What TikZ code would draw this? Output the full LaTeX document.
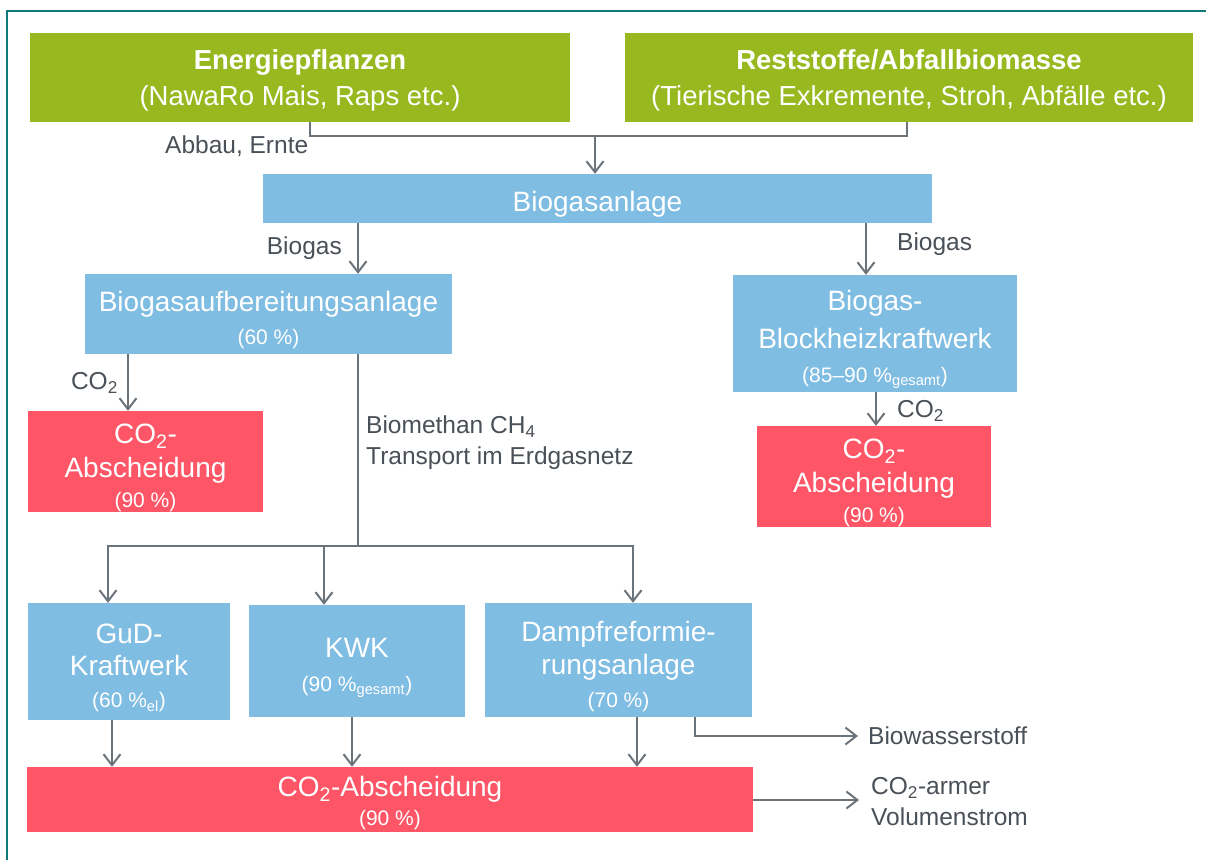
\documentclass[tikz,border=0pt]{standalone}
\usepackage{fontspec}
\setmainfont{Liberation Sans}
\usetikzlibrary{arrows.meta}

\definecolor{framec}{HTML}{0F7A7C}
\definecolor{greenc}{HTML}{97B91F}
\definecolor{bluec}{HTML}{80BDE2}
\definecolor{redc}{HTML}{FE5667}
\definecolor{linec}{HTML}{6B737B}
\definecolor{labelc}{HTML}{4A5057}

\newcommand{\bigtxt}{\fontsize{28}{33}\selectfont}
\newcommand{\smalltxt}{\fontsize{21}{33}\selectfont}
\newcommand{\pct}[1]{{\smalltxt #1}}
% tall invisible strut on the first line pushes the text block a little lower
\newcommand{\boxstrut}{\rule{0pt}{32.5pt}}
\newcommand{\greenstrut}{\rule{0pt}{26pt}}

\tikzset{
  box/.style={rectangle, inner sep=0pt, text=white, align=center, font=\bigtxt},
  greenbox/.style={box, fill=greenc, font=\fontsize{27.5}{36}\selectfont},
  bluebox/.style={box, fill=bluec},
  redbox/.style={box, fill=redc},
  lbl/.style={inner sep=0pt, text=labelc, font=\fontsize{24.5}{31}\selectfont, align=left},
  conn/.style={draw=linec, line width=2pt},
  arr/.style={conn, -{Straight Barb[length=11pt,width=17pt]}},
}

\begin{document}
\begin{tikzpicture}[x=1pt,y=-1pt]
\useasboundingbox (0,0) rectangle (1206,860);

% outer frame (top and left edges)
\draw[framec, line width=2.5pt] (7,860) -- (7,11) -- (1206,11);

% input boxes
\node[greenbox, minimum width=540pt, minimum height=89pt] (en) at (300,77.5)
  {\greenstrut\textbf{Energiepflanzen}\\(NawaRo Mais, Raps etc.)};
\node[greenbox, minimum width=568pt, minimum height=89pt] (rest) at (909,77.5)
  {\greenstrut\textbf{Reststoffe/Abfallbiomasse}\\(Tierische Exkremente, Stroh, Abfälle etc.)};

\node[bluebox, minimum width=669pt, minimum height=49pt] (bga) at (597.5,198.5) {\boxstrut Biogasanlage};

\node[bluebox, minimum width=367pt, minimum height=80pt] (aufb) at (268.5,314)
  {\boxstrut Biogasaufbereitungsanlage\\\pct{(60 \%)}};
\node[bluebox, minimum width=284pt, minimum height=117pt] (bhkw) at (875,333.5)
  {\boxstrut Biogas-\\[5pt]Blockheizkraftwerk\\[1pt]\pct{(85--90 \%\textsubscript{gesamt})}};

\node[redbox, minimum width=235pt, minimum height=101pt] (co2l) at (145.5,461.5)
  {\boxstrut CO\textsubscript{2}-\\[1pt]Abscheidung\\[-3pt]\pct{(90 \%)}};
\node[redbox, minimum width=234pt, minimum height=101pt] (co2r) at (874,476.5)
  {\boxstrut CO\textsubscript{2}-\\[1pt]Abscheidung\\[-3pt]\pct{(90 \%)}};

\node[bluebox, minimum width=202pt, minimum height=117pt] (gud) at (129,661.5)
  {\boxstrut GuD-\\[-1pt]Kraftwerk\\[-1pt]\pct{(60 \%\textsubscript{el})}};
\node[bluebox, minimum width=216pt, minimum height=112pt] (kwk) at (357,661)
  {\boxstrut KWK\\[1pt]\pct{(90 \%\textsubscript{gesamt})}};
\node[bluebox, minimum width=267pt, minimum height=114pt] (dampf) at (618.5,660)
  {\boxstrut Dampfreformie-\\rungsanlage\\\pct{(70 \%)}};

\node[redbox, minimum width=726pt, minimum height=65pt] (co2b) at (390,799.5)
  {\rule{0pt}{28pt}CO\textsubscript{2}-Abscheidung\\[-4pt]\pct{(90 \%)}};

% labels
\node[lbl, anchor=west] (ernte) at (165,146) {Abbau, Ernte};
\node[lbl, anchor=east] (bgl) at (342,248) {Biogas};
\node[lbl, anchor=west] (bgr) at (897,244) {Biogas};
\node[lbl, anchor=east] (col) at (118,383) {CO\textsubscript{2}};
\node[lbl, anchor=west] (cor) at (897,411) {CO\textsubscript{2}};
\node[lbl, anchor=west] (bm) at (366,443) {Biomethan CH\textsubscript{4}\\Transport im Erdgasnetz};
\node[lbl, anchor=west] (h2) at (868,736) {Biowasserstoff};
\node[lbl, anchor=west] (arm) at (871,802) {CO\textsubscript{2}-armer\\Volumenstrom};

% junctions
\coordinate (j1) at (595,136);
\coordinate (j2) at (358,546);

% connectors
\draw[conn] (en.south -| 310,0) |- (j1) -| (rest.south -| 907,0);
\draw[arr] (j1) -- (bga.north -| j1);
\draw[arr] (bga.south -| 358,0) -- (aufb.north -| 358,0);
\draw[arr] (bga.south -| 866,0) -- (bhkw.north -| 866,0);
\draw[arr] (aufb.south -| 128,0) -- (co2l.north -| 128,0);
\draw[arr] (bhkw.south -| 876,0) -- (co2r.north -| 876,0);
\draw[conn] (aufb.south -| j2) -- (j2);
\draw[arr] (j2) -| (gud.north -| 108,0);
\draw[arr] (j2) -| (kwk.north -| 324,0);
\draw[arr] (j2) -| (dampf.north -| 633,0);
\draw[arr] (gud.south -| 112,0) -- (co2b.north -| 112,0);
\draw[arr] (kwk.south -| 352,0) -- (co2b.north -| 352,0);
\draw[arr] (dampf.south -| 637,0) -- (co2b.north -| 637,0);
\draw[arr] (dampf.south -| 695,0) |- ([xshift=-10pt]h2.west);
\draw[arr] (co2b.east |- 0,800) -- ([xshift=-12pt]arm.west |- 0,800);
\end{tikzpicture}
\end{document}
